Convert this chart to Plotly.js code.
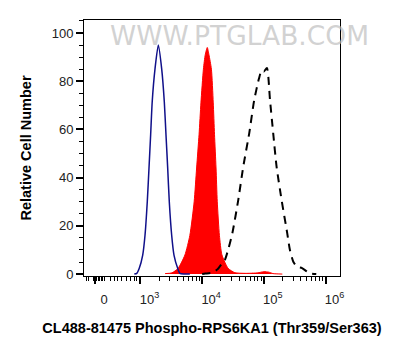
<!DOCTYPE html>
<html>
<head>
<meta charset="utf-8">
<script src="https://cdn.plot.ly/plotly-3.0.1.min.js"></script>
<style>html,body{margin:0;padding:0;background:#fff;}#chart{width:397px;height:356px;}</style>
</head>
<body>
<div id="chart"></div>
<script>
// x values: log10 fluorescence intensity (decade units), y: relative cell number
const blueX = [2.90, 2.94, 2.98, 3.036, 3.073, 3.11, 3.138, 3.165, 3.19, 3.235, 3.289, 3.344, 3.386, 3.413, 3.441, 3.467, 3.506, 3.543, 3.603, 3.64, 3.70, 3.80];
const blueY = [0, 0.3, 2.4, 7.9, 16, 30, 44, 58, 71.5, 85, 95, 85, 71.5, 58, 44, 30, 16, 7.9, 2.4, 0.3, 0, 0];

const redX = [3.40, 3.51, 3.61, 3.72, 3.80, 3.87, 3.91, 3.95, 3.98, 4.02, 4.05, 4.083, 4.11, 4.15, 4.18, 4.20, 4.225, 4.245, 4.28, 4.32, 4.42, 4.53, 4.70, 4.90, 5.00, 5.08, 5.15, 5.30];
const redY = [0.2, 0.5, 2.4, 7.9, 16, 30, 44, 58, 71, 85, 91, 94, 91, 85, 71, 58, 44, 30, 16, 8, 2.4, 0.6, 0.3, 0.5, 1.0, 0.8, 0.2, 0];

const dashX = [4.00, 4.05, 4.15, 4.25, 4.32, 4.37, 4.42, 4.49, 4.585, 4.666, 4.763, 4.844, 4.92, 4.965, 5.00, 5.05, 5.10, 5.152, 5.207, 5.288, 5.379, 5.423, 5.48, 5.54, 5.62, 5.70, 5.75, 5.85];
const dashY = [0, 0.2, 0.5, 2, 4.4, 6, 10, 17, 30.7, 44.5, 58.4, 72.2, 81, 84.5, 84, 85.5, 72.2, 58.4, 44.5, 30.7, 17, 10, 5, 3, 2.5, 1, 0.3, 0];

const xTickVals = [2.263, 3, 4, 5, 6];
const xTickText = ['0', '10<sup>3</sup>', '10<sup>4</sup>', '10<sup>5</sup>', '10<sup>6</sup>'];
const zeroRegionMinor = [2.117, 2.149, 2.230, 2.279, 2.311, 2.335, 2.360, 2.392, 2.417, 2.506, 2.571, 2.635, 2.700, 2.765, 2.830, 2.895, 2.943];
const yTickVals = [0, 20, 40, 60, 80, 100];

const xMinor = zeroRegionMinor.slice();
[3, 4, 5].forEach(d => { for (let k = 2; k <= 9; k++) xMinor.push(d + Math.log10(k)); });

const traces = [
  {x: redX, y: redY, type: 'scatter', mode: 'lines', line: {color: '#ff0000', width: 1, shape: 'spline', smoothing: 0.6}, fill: 'tozeroy', fillcolor: '#ff0000', hoverinfo: 'skip'},
  {x: blueX, y: blueY, type: 'scatter', mode: 'lines', line: {color: '#10108a', width: 1.5, shape: 'spline', smoothing: 0.6}, hoverinfo: 'skip'},
  {x: dashX, y: dashY, type: 'scatter', mode: 'lines', line: {color: '#000000', width: 2, dash: '8px,6px', shape: 'spline', smoothing: 0.6}, hoverinfo: 'skip'}
];

const tickFont = {family: 'Liberation Sans, Arial, sans-serif', size: 13, color: '#222'};
const titleFont = {family: 'Liberation Sans, Arial, sans-serif', size: 14.5, color: '#000', weight: 'bold'};

const layout = {
  width: 397, height: 356,
  margin: {l: 84, r: 57, t: 20, b: 80},
  paper_bgcolor: '#fff', plot_bgcolor: '#fff',
  showlegend: false,
  xaxis: {
    range: [2.084, 6.235], showgrid: false, zeroline: false,
    showline: true, mirror: true, linecolor: '#000', linewidth: 1,
    tickmode: 'array', tickvals: xTickVals, ticktext: xTickText,
    ticks: 'outside', ticklen: 7, tickwidth: 2, tickcolor: '#000',
    ticklabelshift: 9, ticklabelstandoff: 4,
    minor: {tickmode: 'array', tickvals: xMinor, ticks: 'outside', ticklen: 4, tickwidth: 1, tickcolor: '#000', showgrid: false},
    tickfont: tickFont,
    title: {text: 'CL488-81475 Phospho-RPS6KA1 (Thr359/Ser363)', font: titleFont, standoff: 17}
  },
  yaxis: {
    range: [-0.8, 105.4], showgrid: false, zeroline: false,
    showline: true, mirror: true, linecolor: '#000', linewidth: 1,
    tickmode: 'array', tickvals: yTickVals,
    ticks: 'outside', ticklen: 7, tickwidth: 2, tickcolor: '#000',
    minor: {tickmode: 'linear', dtick: 5, tick0: 0, ticks: 'outside', ticklen: 4, tickwidth: 1, tickcolor: '#000', showgrid: false},
    tickfont: tickFont,
    title: {text: 'Relative Cell Number', font: titleFont, standoff: 16}
  },
  annotations: [
    {text: 'WWW.PTGLAB.COM', xref: 'paper', yref: 'paper', x: 0.607, y: 0.94, xanchor: 'center', yanchor: 'middle', showarrow: false,
     font: {family: 'DejaVu Sans, sans-serif', size: 26.5, color: 'rgba(190,190,190,0.7)'}}
  ]
};

Plotly.newPlot('chart', traces, layout, {displayModeBar: false, staticPlot: true});
</script>
</body>
</html>
